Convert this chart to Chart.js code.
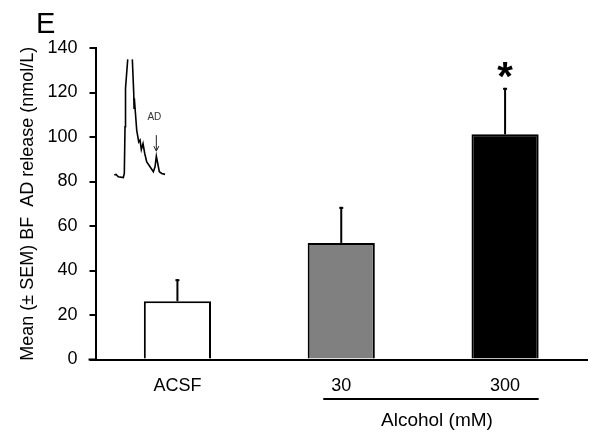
<!DOCTYPE html>
<html>
<head>
<meta charset="utf-8">
<script src="https://cdn.jsdelivr.net/npm/chart.js@4/dist/chart.umd.min.js"></script>
<style>
  html, body { margin: 0; padding: 0; background: #fff; }
  #wrap { width: 600px; height: 439px; position: relative; }
</style>
</head>
<body>
<div id="wrap"><canvas id="c" width="600" height="439"></canvas></div>
<script>
// ---- data ----
const categories = ['ACSF', '30', '300'];
const meanRelease = [26.2, 52.4, 101.2];     // nmol/L
const semRelease = [9.9, 16.2, 20.9];        // SEM (upper error)
const significance = ['', '', '*'];
const groupLabel = 'Alcohol (mM)';
const groupedCategories = ['30', '300'];
const panelLetter = 'E';
const yTitle = 'Mean (\u00b1 SEM) BF  AD release (nmol/L)';
const yMin = 0, yMax = 140, yStep = 20;

// inset chromatogram trace (time in arbitrary units, signal on the y scale)
const traceTime = [0, 1.7, 4, 9, 10, 10.7, 11.0, 11.2, 11.4, 13.4, 15.7, 18, 19.4, 19.7, 20.0, 22.4, 24.4, 25.7, 27, 28.7, 30.4, 32.4, 35.7, 39, 40.7, 42, 43.4, 45, 47.4, 50.7];
const traceSignal = [82.9, 83.2, 82.1, 81.8, 83.6, 104.6, 112.0, 107.0, 121.9, 134.9, null, 134.9, 120.0, 113.0, 117.4, 103.0, 97.8, 98.6, 94.3, 97.0, 92.6, 88.8, 86.6, 84.4, 86.6, 91.4, 88.1, 84.4, 83.6, 83.2];
const traceLabel = 'AD';
const traceLabelIndex = 25; // the AD peak

const FONT = "Arial, 'Liberation Sans', sans-serif";

const extras = {
  id: 'extras',
  afterDatasetsDraw(chart) {
    const ctx = chart.ctx;
    const y = chart.scales.y;
    const ca = chart.chartArea;
    const meta = chart.getDatasetMeta(0);
    ctx.save();
    // x axis line extends under the y ticks
    ctx.strokeStyle = '#000';
    ctx.lineWidth = 2;
    ctx.beginPath();
    ctx.moveTo(ca.left - 7, y.getPixelForValue(0));
    ctx.lineTo(ca.left, y.getPixelForValue(0));
    ctx.stroke();

    // error bars + significance
    meta.data.forEach((bar, i) => {
      const top = y.getPixelForValue(meanRelease[i]);
      const et = y.getPixelForValue(meanRelease[i] + semRelease[i]);
      ctx.strokeStyle = '#000';
      ctx.lineWidth = 2;
      ctx.beginPath();
      ctx.moveTo(bar.x, top);
      ctx.lineTo(bar.x, et);
      ctx.stroke();
      ctx.beginPath();
      ctx.moveTo(bar.x - 2, et + 1);
      ctx.lineTo(bar.x + 2, et + 1);
      ctx.stroke();
      if (significance[i]) {
        ctx.fillStyle = '#000';
        ctx.font = 'bold 40px ' + FONT;
        ctx.textAlign = 'center';
        ctx.textBaseline = 'alphabetic';
        ctx.fillText(significance[i], bar.x, et + 2);
      }
    });

    // group line + label
    const i1 = categories.indexOf(groupedCategories[0]);
    const i2 = categories.indexOf(groupedCategories[1]);
    const b1 = meta.data[i1], b2 = meta.data[i2];
    const lineY = chart.scales.x.bottom - 40;
    const x1 = b1.x - 18, x2 = b2.x + b2.width / 2;
    ctx.lineWidth = 2;
    ctx.beginPath();
    ctx.moveTo(x1, lineY);
    ctx.lineTo(x2, lineY);
    ctx.stroke();
    ctx.fillStyle = '#000';
    ctx.font = '19px ' + FONT;
    ctx.textAlign = 'center';
    ctx.textBaseline = 'middle';
    ctx.fillText(groupLabel, (x1 + x2) / 2 + 6, lineY + 22);

    // panel letter
    ctx.font = '29px ' + FONT;
    ctx.textAlign = 'left';
    ctx.textBaseline = 'alphabetic';
    ctx.fillText(panelLetter, 36, 33);

    // inset label and arrow
    const xt = chart.scales.xt;
    const px = xt.getPixelForValue(traceTime[traceLabelIndex]);
    const py = y.getPixelForValue(traceSignal[traceLabelIndex]);
    ctx.strokeStyle = '#222';
    ctx.fillStyle = '#222';
    ctx.lineWidth = 1;
    ctx.beginPath();
    ctx.moveTo(px, py - 21);
    ctx.lineTo(px, py - 6);
    ctx.stroke();
    ctx.beginPath();
    ctx.moveTo(px - 2.5, py - 10);
    ctx.lineTo(px, py - 5);
    ctx.lineTo(px + 2.5, py - 10);
    ctx.stroke();
    ctx.font = '10px ' + FONT;
    ctx.textAlign = 'center';
    ctx.textBaseline = 'middle';
    ctx.fillStyle = '#333';
    ctx.fillText(traceLabel, px - 2, py - 39);
    ctx.restore();
  }
};

new Chart(document.getElementById('c'), {
  data: {
    labels: categories,
    datasets: [
      {
        type: 'bar',
        data: meanRelease,
        backgroundColor: ['#ffffff', '#808080', '#000000'],
        borderColor: '#000',
        borderWidth: 2,
        borderSkipped: 'start',
        barPercentage: 0.41,
        categoryPercentage: 1.0,
        grouped: false,
        xAxisID: 'x',
        yAxisID: 'y'
      },
      {
        type: 'line',
        data: traceTime.map((t, i) => ({ x: t, y: traceSignal[i] })),
        borderColor: '#000',
        borderWidth: 1.6,
        pointRadius: 0,
        tension: 0,
        spanGaps: false,
        fill: false,
        xAxisID: 'xt',
        yAxisID: 'y'
      }
    ]
  },
  options: {
    responsive: false,
    animation: false,
    devicePixelRatio: 1,
    layout: { padding: { left: 0, right: 13, top: 48, bottom: 0 } },
    plugins: { legend: { display: false }, tooltip: { enabled: false } },
    scales: {
      x: {
        type: 'category',
        position: 'bottom',
        grid: { display: false },
        border: { display: true, color: '#000', width: 2 },
        ticks: { color: '#000', font: { family: FONT, size: 18 }, padding: 8, maxRotation: 0 },
        afterFit(s) { s.height = 79.5; }
      },
      xt: {
        type: 'linear',
        display: false,
        min: -18.8,
        max: 472.4
      },
      y: {
        min: yMin,
        max: yMax,
        grid: { drawOnChartArea: false, drawTicks: true, tickLength: 6, color: '#000', lineWidth: 2 },
        border: { display: true, color: '#000', width: 2 },
        ticks: { stepSize: yStep, color: '#000', font: { family: FONT, size: 18 }, padding: 12 },
        title: { display: true, text: yTitle, color: '#000', font: { family: FONT, size: 18 }, padding: { top: 17, bottom: 0 } },
        afterFit(s) { s.width = 95.5; }
      }
    }
  },
  plugins: [extras]
});
</script>
</body>
</html>
